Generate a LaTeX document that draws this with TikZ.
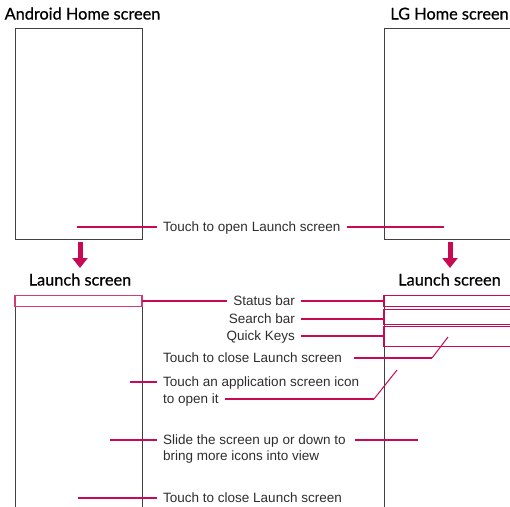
\documentclass[tikz,border=0pt]{standalone}
\usepackage{fontspec}
\setmainfont{Liberation Sans}
\newfontfamily\titlefont[FakeBold=0.6]{Lato}
\usetikzlibrary{arrows.meta}
\definecolor{lgred}{RGB}{200,10,85}
\definecolor{txt}{RGB}{45,45,45}
\begin{document}
\begin{tikzpicture}[x=1pt,y=-1pt,
  screen/.style={draw=black!75, line width=0.9pt},
  bar/.style={draw=lgred, line width=1.5pt},
  lead/.style={draw=lgred, line width=2pt},
  thinlead/.style={draw=lgred, line width=1pt},
  lbl/.style={font=\fontsize{13.5}{16}\selectfont, text=txt, inner xsep=6pt, inner ysep=0pt, text height=9.5pt, text depth=0pt},
  ttl/.style={font=\titlefont\fontsize{16.3}{19}\selectfont, inner sep=0pt, anchor=base},
  bigarrow/.style={draw=lgred, line width=5pt, -{Triangle[length=10pt, width=15pt]}}]
\useasboundingbox (0,0) rectangle (510,506);
\clip (0,0) rectangle (510,506);
% titles
\node[ttl] (t1) at (82.5,19.5) {Android Home screen};
\node[ttl] (t2) at (449.5,19.5) {LG Home screen};
\node[ttl] (t3) at (80,285.5) {Launch screen};
\node[ttl] (t4) at (449.5,285.5) {Launch screen};
% screens
\draw[screen] (15,28) rectangle (142,239);
\draw[screen] (520,28) -- (384,28) -- (384,239) -- (520,239);
\draw[screen] (15,520) -- (15,295) -- (142,295) -- (142,520);
\draw[screen] (384,520) -- (384,295) -- (520,295);
% bars
\draw[bar, draw=lgred!80] (15,295.5) rectangle (142,306.5);
\draw[bar] (384,295.5) rectangle (520,306.5);
\draw[bar] (384,309.5) rectangle (520,324.5);
\draw[bar] (384,326.5) rectangle (520,346.5);
% arrows
\coordinate (a1s) at (80,242); \coordinate (a1e) at (80,268);
\coordinate (a2s) at (450,242); \coordinate (a2e) at (450,268);
\draw[bigarrow] (a1s) -- (a1e);
\draw[bigarrow] (a2s) -- (a2e);
% labels
\node[lbl, anchor=west] (open) at (157,227) {Touch to open Launch screen};
\node[lbl, anchor=east] (sb) at (301,301) {Status bar};
\node[lbl, anchor=east] (srch) at (301,319) {Search bar};
\node[lbl, anchor=east] (qk) at (301,336) {Quick Keys};
\node[lbl, anchor=west] (close1) at (157,358) {Touch to close Launch screen};
\node[lbl, anchor=west] (appA) at (157,382) {Touch an application screen icon};
\node[lbl, anchor=west] (appB) at (157,399) {to open it};
\node[lbl, anchor=west] (slA) at (157,440) {Slide the screen up or down to};
\node[lbl, anchor=west] (slB) at (157,456) {bring more icons into view};
\node[lbl, anchor=west] (close2) at (157,498) {Touch to close Launch screen};
% connector ends
\coordinate (openL) at (77,227); \coordinate (openR) at (444,227);
\coordinate (sbL) at (142,301); \coordinate (sbR) at (384,301);
\coordinate (srR) at (384,319);
\coordinate (qkR) at (384,336);
\coordinate (c1k) at (432,358); \coordinate (c1e) at (448,337);
\coordinate (apL) at (130,382); \coordinate (apk) at (374,399); \coordinate (ape) at (397,370);
\coordinate (slL) at (110,440); \coordinate (slR) at (418,440);
\coordinate (c2L) at (78,498);
% connectors
\draw[lead] (openL) -- (open.west);
\draw[lead] (open.east) -- (openR);
\draw[lead] (sbL) -- (sb.west);
\draw[lead] (sb.east) -- (sbR);
\draw[lead] (srch.east) -- (srR);
\draw[lead] (qk.east) -- (qkR);
\draw[lead] ([xshift=6pt]close1.east) -- (c1k);
\draw[thinlead] (c1k) -- (c1e);
\draw[lead] (apL) -- (appA.west);
\draw[lead] (appB.east) -- (apk);
\draw[thinlead] (apk) -- (ape);
\draw[lead] (slL) -- (slA.west);
\draw[lead] ([xshift=3pt]slA.east) -- (slR);
\draw[lead] (c2L) -- (close2.west);
\end{tikzpicture}
\end{document}
